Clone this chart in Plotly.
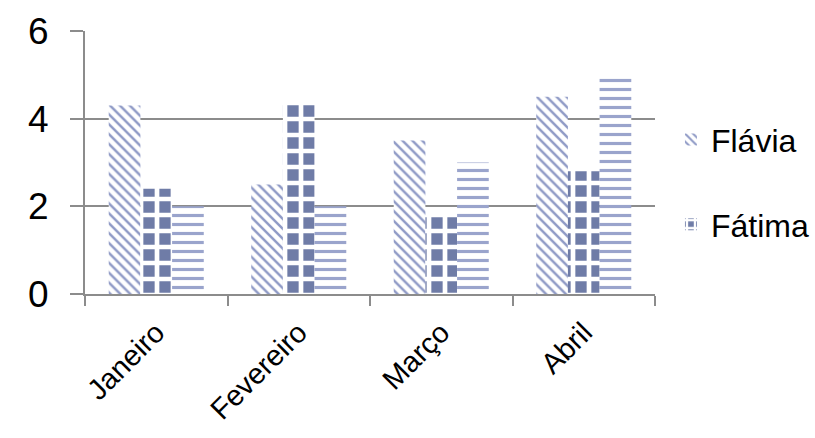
import plotly.graph_objects as go

categories = ["Janeiro", "Fevereiro", "Março", "Abril"]
flavia = [4.3, 2.5, 3.5, 4.5]
fatima = [2.4, 4.4, 1.8, 2.8]
serie3 = [2.0, 2.0, 3.0, 5.0]
y_ticks = [0, 2, 4, 6]

FONT = "Liberation Sans, Arial, sans-serif"

fig = go.Figure()
fig.add_trace(go.Bar(
    x=categories, y=flavia, name="Flávia", legendgroup="a",
    marker=dict(color="white", line=dict(width=0),
                pattern=dict(shape="\\", fgcolor="#8f9ac6", bgcolor="white",
                             fgopacity=1, size=7, solidity=0.35)),
))
fig.add_trace(go.Bar(
    x=categories, y=fatima, name="Fátima", legendgroup="b",
    marker=dict(color="#6f7ca7", line=dict(width=0),
                pattern=dict(shape="+", fgcolor="white", bgcolor="#6f7ca7",
                             fgopacity=1, size=16, solidity=0.5)),
))
fig.add_trace(go.Bar(
    x=categories, y=serie3, name="Série 3", legendgroup="c", showlegend=False,
    marker=dict(color="white", line=dict(width=0),
                pattern=dict(shape="-", fgcolor="#9aa4cc", bgcolor="white",
                             fgopacity=1, size=9, solidity=0.35)),
))

fig.update_layout(
    width=815, height=438,
    margin=dict(l=85, r=160, t=31, b=144, autoexpand=False),
    paper_bgcolor="white", plot_bgcolor="white",
    barmode="group", bargap=0.333, bargroupgap=0,
    font=dict(family=FONT, color="black"),
    showlegend=True,
    legend=dict(x=1.028, y=0.425, xanchor="left", yanchor="middle",
                font=dict(size=32, family=FONT), tracegroupgap=40,
                itemwidth=30, bgcolor="rgba(0,0,0,0)"),
    xaxis=dict(
        showline=True, linecolor="#8c8c8c", linewidth=2,
        ticks="outside", tickson="boundaries", ticklen=10,
        tickcolor="#8c8c8c", tickwidth=2,
        tickangle=-45, tickfont=dict(size=29, family=FONT),
        ticklabelstandoff=8,
        showgrid=False,
    ),
    yaxis=dict(
        range=[0, 6], tickvals=y_ticks, showline=True,
        linecolor="#8c8c8c", linewidth=2,
        ticks="outside", ticklen=13, tickcolor="#8c8c8c", tickwidth=2,
        showgrid=True, gridcolor="#8c8c8c", gridwidth=2,
        tickfont=dict(size=37, family=FONT), ticklabelstandoff=14,
        zeroline=False,
    ),
)

fig.write_html("out.html")
